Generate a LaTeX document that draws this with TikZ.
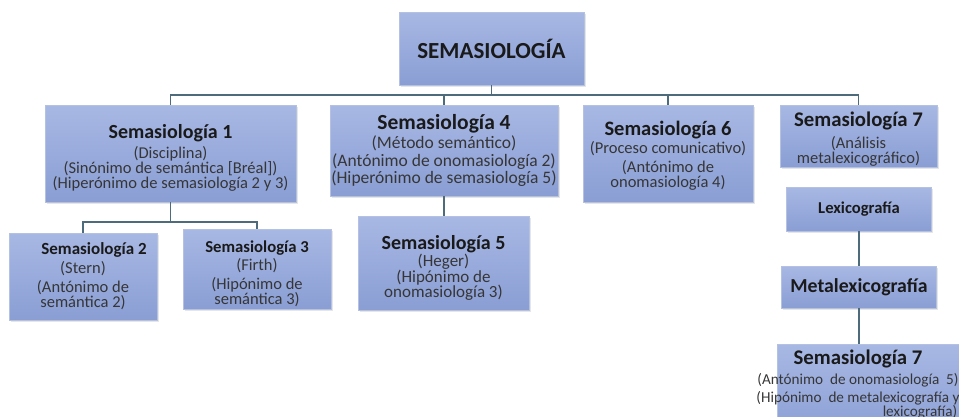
\documentclass[tikz,border=0pt]{standalone}
\usepackage{fontspec}
\setmainfont{Carlito}
\usepackage{xcolor}
\usetikzlibrary{positioning,calc,shadows}
\definecolor{boxtop}{HTML}{A8B8E4}
\definecolor{boxbot}{HTML}{8A9ED4}
\definecolor{boxline}{HTML}{B5C1E0}
\definecolor{linkcol}{HTML}{4E6B7C}
\definecolor{ttlcol}{HTML}{1A1A1A}
\definecolor{bodycol}{HTML}{363636}
\newcommand{\tightlines}{\setlength{\lineskiplimit}{-20pt}\relax}
\tikzset{
  sbox/.style={rectangle, draw=boxline, top color=boxtop, bottom color=boxbot,
    align=center, inner sep=0pt, text=bodycol,
    drop shadow={shadow xshift=1.5pt, shadow yshift=-1.5pt, opacity=0.2}},
  link/.style={draw=linkcol, line width=1.2pt},
  tight/.style n args={2}{font=\fontsize{#1}{#2}\selectfont\tightlines},
}
\newcommand{\hd}[2]{{\fontsize{#1}{#1}\selectfont\bfseries\color{ttlcol}#2}}

\begin{document}
\begin{tikzpicture}[x=1pt, y=-1pt, font=\fontsize{16.5}{15}\selectfont]
    \useasboundingbox (0,0) rectangle (959,416);
    \clip (0,0) rectangle (959,416);

    % Root
    \node[sbox, minimum width=185pt, minimum height=73pt] (root) at (491.5,48.5) {\hd{23}{SEMASIOLOGÍA}};

    % First level
    \node[sbox, minimum width=251pt, minimum height=97pt] (s1) at (170.5,153.5)
        {\rule{0pt}{23pt}\hd{20}{Semasiología 1}\\[3pt] (Disciplina)\\ (Sinónimo de semántica [Bréal])\\ (Hiperónimo de semasiología 2 y 3)};
    \node[sbox, minimum width=228pt, minimum height=91pt, font=\fontsize{17.5}{17.5}\selectfont] (s4) at (444,150.5)
        {\hd{21.5}{Semasiología 4}\\[2pt] (Método semántico)\\ (Antónimo de onomasiología 2)\\ (Hiperónimo de semasiología 5)};
    \node[sbox, minimum width=170pt, minimum height=97pt] (s6) at (668,153.5)
        {\rule{0pt}{19pt}\hd{20.5}{Semasiología 6}\\[2pt] (Proceso comunicativo)\\[4pt] (Antónimo de\\ onomasiología 4)};
    \node[sbox, minimum width=157pt, minimum height=62pt, tight={16.5}{15}] (s7) at (858.5,136)
        {\rule{0pt}{21pt}\hd{20.8}{Semasiología 7}\\[7pt] (Análisis\\ metalexicográfico)};

    % Second level
    \node[sbox, minimum width=148pt, minimum height=87pt] (s2) at (83,276.5)
        {\hspace*{22pt}\hd{17}{Semasiología 2}\\[4pt] (Stern)\\[4pt] (Antónimo de\\ semántica 2)};
    \node[sbox, minimum width=148pt, minimum height=80pt] (s3) at (257,269)
        {\rule{0pt}{21pt}\hd{16.7}{Semasiología 3}\\[3pt] (Firth)\\[4pt] (Hipónimo de\\ semántica 3)};
    \node[sbox, minimum width=171pt, minimum height=94pt, tight={17}{15}] (s5) at (443.5,263)
        {\rule{0pt}{24pt}\hd{20}{Semasiología 5}\\[2pt] (Heger)\\[1pt] (Hipónimo de\\[0pt] onomasiología 3)};

    % Right branch
    \node[sbox, minimum width=145pt, minimum height=44pt] (lex) at (859,209) {\hd{16.6}{Lexicografía}};
    \node[sbox, minimum width=155pt, minimum height=42pt] (meta) at (859,287) {\hd{19.8}{Metalexicografía}};
    \node[sbox, minimum width=220pt, minimum height=96pt, anchor=north west] (s7b) at (777,344) {};
    \node[align=center, anchor=north, inner sep=0pt, text=bodycol, font=\fontsize{15.2}{12}\selectfont] (s7bt) at (858,350)
        {\hd{20.8}{Semasiología 7}\\[4pt] (Antónimo\ \ de onomasiología\ \ 5)\\[3pt] (Hipónimo\ \ de metalexicografía y\\ \hspace*{124pt}lexicografía)};

    % Connectors
    \coordinate (bus) at (491.5,95);
    \draw[link] (root) -- (bus);
    \foreach \n in {s1,s4,s6,s7}
        \draw[link] (bus) -| (\n.north);
    \coordinate (bus1) at (170.5,222);
    \draw[link] (s1) -- (bus1);
    \foreach \n in {s2,s3}
        \draw[link] (bus1) -| (\n.north);
    \draw[link] (s4.south) -- (s4.south |- s5.north);
    \draw[link] (lex) -- (meta);
    \draw[link] (meta.south) -- (meta.south |- s7b.north);
\end{tikzpicture}
\end{document}
